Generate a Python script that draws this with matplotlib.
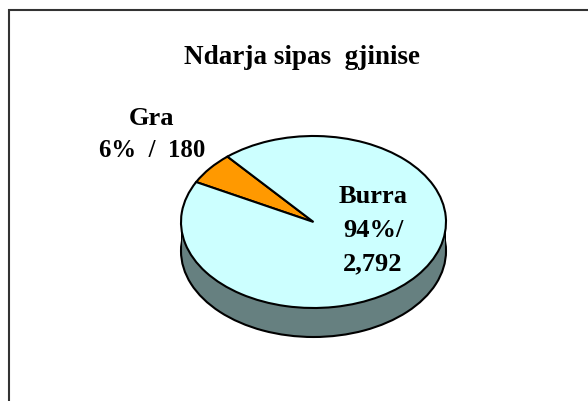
import matplotlib
matplotlib.use("Agg")
import matplotlib.pyplot as plt
from matplotlib.lines import Line2D

W, H = 588, 402

categories = ["Gra", "Burra"]
values = [180, 2792]
percents = ["6%", "94%"]
colors = ["#FF9900", "#CCFFFF"]
side_color = "#668080"

plt.rcParams["font.family"] = ["Liberation Serif", "DejaVu Serif"]
plt.rcParams["font.weight"] = "bold"

fig = plt.figure(figsize=(W / 100, H / 100), dpi=100, facecolor="white")

# only top and left of the frame are visible, they run off the image
fig.add_artist(Line2D([9 / W, 9 / W, 1], [0, 1 - 11 / H, 1 - 11 / H], transform=fig.transFigure,
                      color="#333333", linewidth=1.5, solid_joinstyle="miter"))

# axes is exactly the bounding box of the top ellipse
left, right, top, bottom = 181, 446, 137, 309
ax = fig.add_axes([left / W, 1 - bottom / H, (right - left) / W, (bottom - top) / H])
depth = 29 / ((bottom - top) / 2)

edge = {"edgecolor": "black", "linewidth": 1.5}

# side of the pie
ax.pie([1], colors=[side_color], center=(0, -depth), radius=1, wedgeprops=edge)
ax.fill_between([-1, 1], [0, 0], [-depth, -depth], color=side_color, linewidth=0, zorder=1.5)
ax.vlines([-1, 1], -depth, 0, color="black", linewidth=1.5, zorder=1.6)

# top face
wedges, _ = ax.pie(values, colors=colors, startangle=130.5, radius=1, wedgeprops=edge)
for w in wedges:
    w.set_zorder(3)

ax.set_aspect("auto")
ax.set_xlim(-1, 1)
ax.set_ylim(-1, 1)
ax.axis("off")
for a in ax.patches:
    a.set_clip_on(False)


def px_text(x, y, s, size=19):
    fig.text(x / W, 1 - y / H, s, ha="center", va="center", fontsize=size, fontweight="bold", zorder=10)


px_text(302.5, 58, "Ndarja sipas  gjinise", 19.5)
px_text(152, 119, categories[0])
px_text(152, 151, f"{percents[0]}  /  {values[0]}", 17.8)
px_text(373, 196.5, categories[1])
px_text(373, 230.5, f"{percents[1]}/")
px_text(373, 264, f"{values[1]:,}")

fig.savefig("out.png", dpi=100)
